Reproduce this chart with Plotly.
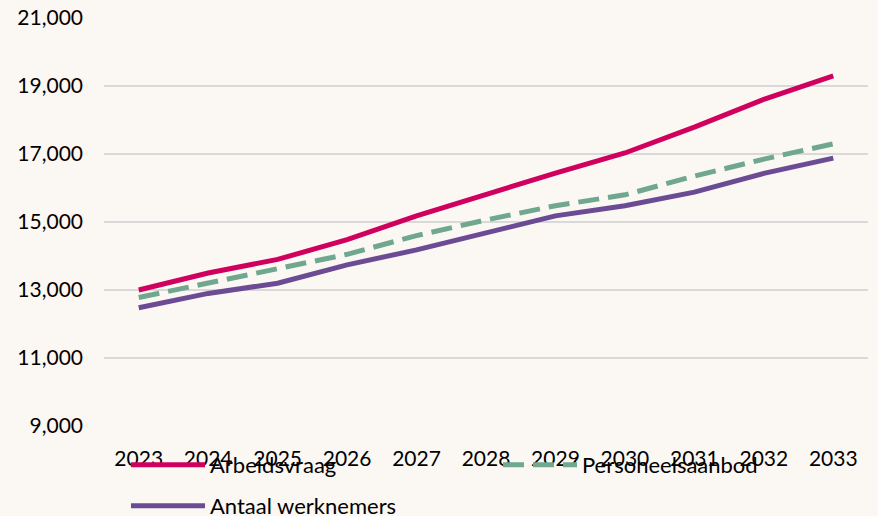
import plotly.graph_objects as go

years = ["2023", "2024", "2025", "2026", "2027", "2028", "2029", "2030", "2031", "2032", "2033"]
arbeidsvraag = [13000, 13500, 13900, 14480, 15180, 15820, 16440, 17030, 17790, 18610, 19300]
personeelsaanbod = [12780, 13200, 13640, 14050, 14600, 15060, 15480, 15800, 16350, 16850, 17300]
werknemers = [12480, 12900, 13200, 13740, 14180, 14670, 15180, 15480, 15880, 16430, 16880]
y_ticks = [9000, 11000, 13000, 15000, 17000, 19000, 21000]

FONT = "Lato, 'Open Sans', sans-serif"
BG = "#FBF7F2"

fig = go.Figure()
fig.add_trace(go.Scatter(x=years, y=arbeidsvraag, name="Arbeidsvraag", mode="lines",
                         line=dict(color="#D0005F", width=5), legend="legend"))
fig.add_trace(go.Scatter(x=years, y=personeelsaanbod, name="Personeelsaanbod", mode="lines",
                         line=dict(color="#6FA78F", width=5, dash="21px,9px"), legend="legend2"))
fig.add_trace(go.Scatter(x=years, y=werknemers, name="Antaal werknemers", mode="lines",
                         line=dict(color="#6B4C94", width=5), legend="legend3"))

leg_common = dict(orientation="h", xanchor="left", yanchor="top",
                  bgcolor="rgba(0,0,0,0)", font=dict(size=22), itemwidth=74)

fig.update_layout(
    width=878, height=516,
    paper_bgcolor=BG, plot_bgcolor=BG,
    margin=dict(l=104, r=10, t=18, b=90, autoexpand=False),
    font=dict(family=FONT, size=20, color="#000000"),
    xaxis=dict(showgrid=False, showline=False, zeroline=False, ticks="",
               range=[-0.5, 10.5], automargin=False,
               ticklabelstandoff=18, tickfont=dict(size=21)),
    yaxis=dict(range=[9000, 21000.5], tickvals=y_ticks, tickformat=",d", automargin=False,
               ticklabeloverflow="allow",
               showgrid=True, gridcolor="#D9D9D9", gridwidth=2, zeroline=False,
               showline=False, ticks="", ticklabelstandoff=20, tickfont=dict(size=21)),
    legend=dict(x=0.0288, y=-0.0441, **leg_common),
    legend2=dict(x=0.5157, y=-0.0441, **leg_common),
    legend3=dict(x=0.0288, y=-0.1446, **leg_common),
    showlegend=True,
)

fig.write_html(
    "out.html",
    config={"displayModeBar": False},
    post_script="document.body.style.margin='0';document.body.style.background='%s';" % BG,
)
